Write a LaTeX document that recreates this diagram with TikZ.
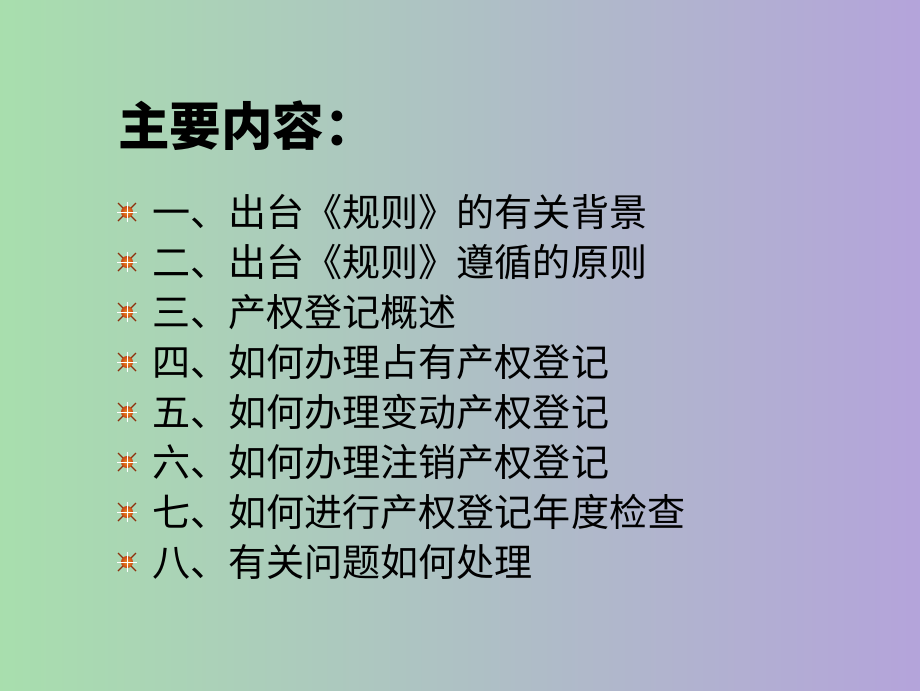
\documentclass[tikz,border=0pt]{standalone}
\usepackage{fontspec}
\newfontfamily\cjk{Noto Sans CJK SC}
\definecolor{bgtl}{RGB}{166,232,166}
\definecolor{bgbr}{RGB}{182,154,226}
\definecolor{starred}{RGB}{200,70,20}
\definecolor{starorange}{RGB}{240,150,40}
\tikzset{
  item/.style={anchor=west, inner sep=0pt, font=\cjk\fontsize{32.5pt}{32.5pt}\selectfont},
  heading/.style={anchor=west, inner sep=0pt, font=\cjk\bfseries\fontsize{44pt}{44pt}\selectfont},
}
\newcommand{\starmark}[1]{%
  \begin{scope}[shift={(#1)}]
    \draw[starred!70!black, line width=1pt] (-9,-9) -- (9,9) (-9,9) -- (9,-9);
    \shade[inner color=starorange, outer color=starred] (0,0) circle (6);
    \draw[white, line width=0.8pt] (-10,0) -- (10,0) (0,-10) -- (0,10);
  \end{scope}}
\begin{document}
\begin{tikzpicture}[x=0.03cm, y=-0.03cm]
  % background
  \useasboundingbox (0,0) rectangle (920,690);
  \clip (0,0) rectangle (920,690);
  \shade[shading angle=-35, left color=bgtl, right color=bgbr] (-150,-150) rectangle (1070,840);

  % title
  \node[heading] (title) at (118,126) {主要内容：};

  % items
  \foreach \txt [count=\i] in {一、出台《规则》的有关背景, 二、出台《规则》遵循的原则,
      三、产权登记概述, 四、如何办理占有产权登记, 五、如何办理变动产权登记,
      六、如何办理注销产权登记, 七、如何进行产权登记年度检查, 八、有关问题如何处理} {
    \node[item] (item\i) at (152,{162+50*\i}) {\txt};
    \starmark{127,{162+50*\i}}
  }
\end{tikzpicture}
\end{document}
